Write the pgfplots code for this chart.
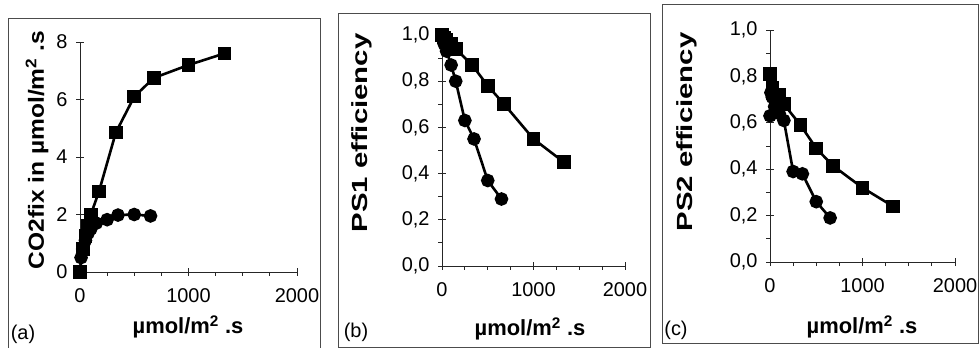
\documentclass[border=0pt]{standalone}
\usepackage{pgfplots}
\pgfplotsset{compat=1.18}
\usepackage{fontspec}
\setmainfont{Liberation Sans}

\pgfplotstableread{
x y
0 0
25 0.8
50 1.25
75 1.6
100 2.0
175 2.8
330 4.85
500 6.1
680 6.75
1000 7.2
1330 7.6
}\aSq
\pgfplotstableread{
x y
0 0
10 0.5
25 0.8
50 1.1
75 1.35
100 1.5
150 1.7
250 1.82
350 1.98
500 2.0
650 1.95
}\aCi
\pgfplotstableread{
x y
0 1.0
25 0.99
50 0.98
100 0.96
150 0.94
330 0.87
500 0.78
680 0.70
1000 0.55
1330 0.45
}\bSq
\pgfplotstableread{
x y
0 1.0
10 0.99
25 0.96
50 0.93
100 0.87
150 0.80
250 0.63
350 0.55
500 0.37
650 0.29
}\bCi
\pgfplotstableread{
x y
0 0.81
25 0.75
50 0.72
100 0.72
150 0.68
330 0.59
500 0.49
680 0.415
1000 0.32
1330 0.24
}\cSq
\pgfplotstableread{
x y
0 0.63
10 0.73
25 0.71
50 0.67
100 0.64
150 0.61
250 0.39
350 0.38
500 0.26
650 0.19
}\cCi

\pgfplotsset{
 panel/.style={
  scale only axis, clip=false, anchor=south west,
  axis lines=left, axis line style={-, black!85, line width=0.8bp},
  xmin=0, xmax=2000, ymin=0,
  xtick={0,1000,2000}, minor x tick num=3,
  tick align=outside, major tick length=4bp, minor tick length=4bp,
  tick style={black!85, line width=0.8bp},
  tick label style={font=\fontsize{20}{24}\selectfont},
  /pgf/number format/assume math mode=true,
  xticklabel style={yshift=-9bp},
  yticklabel style={xshift=-5bp},
  scaled ticks=false,
  x tick label style={/pgf/number format/1000 sep={}},
  extra x ticks={1000,2000}, extra x tick labels={},
  extra x tick style={tick align=inside},
  every axis plot/.append style={black, line width=2.6bp, mark size=5.5bp},
 },
 effy/.style={
  ymax=1, ytick={0,0.2,0.4,0.6,0.8,1.0}, minor y tick num=1,
  extra y ticks={0.2,0.4,0.6,0.8,1.0}, extra y tick labels={},
  extra y tick style={tick align=inside},
  y tick label style={/pgf/number format/.cd, use comma, fixed, fixed zerofill, precision=1},
 },
}

\begin{document}
\begin{tikzpicture}
\path[use as bounding box] (0bp,0bp) rectangle (980bp,348bp);
% frames
\draw[black!70, line width=0.8bp] (8bp,-2bp) -- (8bp,330bp) -- (320bp,330bp) -- (320bp,-2bp);
\draw[black!70, line width=0.8bp] (338bp,1bp) rectangle (650bp,335bp);
\draw[black!70, line width=0.8bp] (662bp,5bp) rectangle (978bp,344bp);

% (a)
\begin{axis}[panel, at={(80bp,76bp)}, width=217bp, height=230bp,
  ymax=8, ytick={0,2,4,6,8},
  extra y ticks={2,4,6,8}, extra y tick labels={}, extra y tick style={tick align=inside}]
\addplot[mark=square*] table {\aSq};
\addplot[mark=*] table {\aCi};
\end{axis}
\node[font=\bfseries\fontsize{22}{26}\selectfont, rotate=90, xscale=1.12] at (37bp,198bp) {CO2fix in µmol/m\textsuperscript{2} .s};
\node[font=\bfseries\fontsize{22}{26}\selectfont] at (188bp,21bp) {µmol/m\textsuperscript{2} .s};
\node[font=\fontsize{20}{24}\selectfont] at (23bp,14bp) {(a)};

% (b)
\begin{axis}[panel, effy, at={(442bp,82bp)}, width=183bp, height=231bp]
\addplot[mark=square*] table {\bSq};
\addplot[mark=*] table {\bCi};
\end{axis}
\node[font=\bfseries\fontsize{22}{26}\selectfont, rotate=90, xscale=1.34] at (362bp,215bp) {PS1 efficiency};
\node[font=\bfseries\fontsize{22}{26}\selectfont] at (530bp,19bp) {µmol/m\textsuperscript{2} .s};
\node[font=\fontsize{20}{24}\selectfont] at (356bp,16bp) {(b)};

% (c)
\begin{axis}[panel, effy, at={(770bp,86bp)}, width=185bp, height=232bp]
\addplot[mark=square*] table {\cSq};
\addplot[mark=*] table {\cCi};
\end{axis}
\node[font=\bfseries\fontsize{22}{26}\selectfont, rotate=90, xscale=1.34] at (687bp,216bp) {PS2 efficiency};
\node[font=\bfseries\fontsize{22}{26}\selectfont] at (862bp,21bp) {µmol/m\textsuperscript{2} .s};
\node[font=\fontsize{20}{24}\selectfont] at (676bp,18bp) {(c)};
\end{tikzpicture}
\end{document}
